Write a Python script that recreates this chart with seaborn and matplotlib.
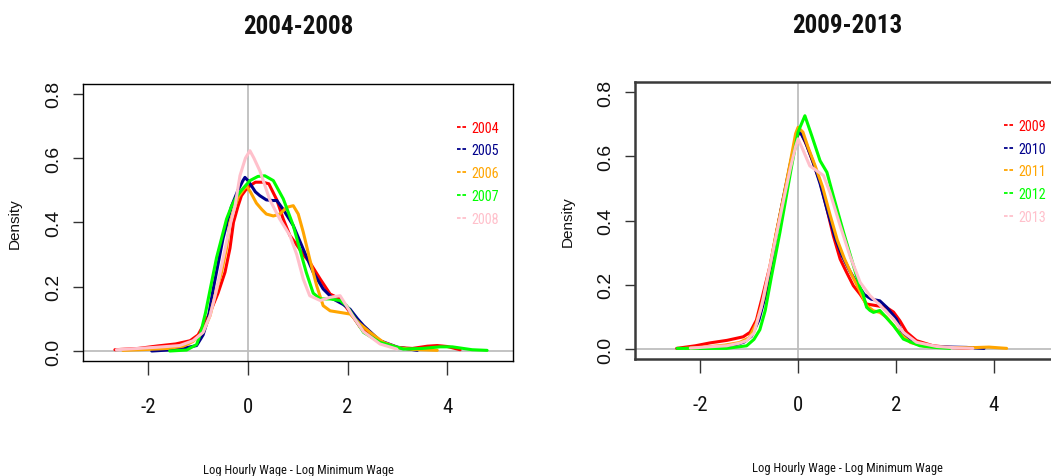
import numpy as np
import pandas as pd
import matplotlib
matplotlib.use("Agg")
import matplotlib.pyplot as plt
from matplotlib.lines import Line2D
from matplotlib import font_manager
import seaborn as sns

# ---------------- data ----------------
years_a = ["2004", "2005", "2006", "2007", "2008"]
years_b = ["2009", "2010", "2011", "2012", "2013"]
colors = ["#FF0000", "#00008B", "#FFA500", "#00FF00", "#FFC0CB"]

x2004 = [-2.67, -2.2, -1.8, -1.45, -1.16, -1.0, -0.9, -0.76, -0.6, -0.46, -0.36, -0.29, -0.2, -0.13, -0.05,
         0.05, 0.15, 0.3, 0.42, 0.58, 0.71, 0.84, 0.98, 1.11, 1.24, 1.45, 1.65, 1.85, 2.05, 2.25, 2.5, 2.78,
         3.0, 3.3, 3.6, 3.8, 4.0, 4.26]
d2004 = [0.004, 0.008, 0.016, 0.022, 0.032, 0.05, 0.079, 0.12, 0.18, 0.245, 0.32, 0.40, 0.45, 0.483, 0.50,
         0.515, 0.525, 0.525, 0.52, 0.47, 0.41, 0.36, 0.33, 0.30, 0.276, 0.224, 0.177, 0.162, 0.12, 0.075,
         0.045, 0.022, 0.011, 0.008, 0.015, 0.017, 0.014, 0.004]

x2005 = [-1.93, -1.6, -1.3, -1.03, -0.9, -0.8, -0.7, -0.6, -0.5, -0.4, -0.33, -0.2, -0.1, -0.06, 0.0, 0.07,
         0.15, 0.24, 0.37, 0.5, 0.58, 0.71, 0.91, 1.11, 1.31, 1.51, 1.71, 1.91, 2.05, 2.2, 2.32, 2.65, 3.0, 3.4]
d2005 = [0.0, 0.003, 0.008, 0.017, 0.05, 0.10, 0.19, 0.27, 0.35, 0.41, 0.45, 0.50, 0.53, 0.54, 0.53, 0.514,
         0.495, 0.483, 0.47, 0.468, 0.468, 0.44, 0.39, 0.317, 0.245, 0.193, 0.162, 0.145, 0.13, 0.10, 0.079,
         0.032, 0.012, 0.002]

x2006 = [-2.51, -2.0, -1.6, -1.3, -1.1, -0.9, -0.76, -0.63, -0.53, -0.43, -0.36, -0.26, -0.19, -0.1, -0.03,
         0.05, 0.17, 0.28, 0.37, 0.51, 0.64, 0.78, 0.91, 1.01, 1.11, 1.24, 1.38, 1.51, 1.65, 1.85, 2.05, 2.25,
         2.45, 2.72, 3.0, 3.3, 3.8]
d2006 = [0.002, 0.005, 0.008, 0.015, 0.03, 0.06, 0.11, 0.19, 0.245, 0.32, 0.40, 0.45, 0.48, 0.50, 0.514,
         0.495, 0.46, 0.44, 0.426, 0.42, 0.426, 0.447, 0.452, 0.426, 0.37, 0.286, 0.203, 0.141, 0.125, 0.12,
         0.115, 0.084, 0.058, 0.027, 0.011, 0.005, 0.002]

x2007 = [-1.57, -1.23, -1.03, -0.95, -0.85, -0.76, -0.63, -0.53, -0.43, -0.33, -0.23, -0.13, 0.04, 0.2, 0.34,
         0.51, 0.71, 0.91, 1.04, 1.17, 1.31, 1.45, 1.65, 1.85, 1.98, 2.15, 2.32, 2.65, 3.12, 3.5, 3.86, 4.1,
         4.5, 4.8]
d2007 = [0.0, 0.003, 0.02, 0.055, 0.12, 0.19, 0.29, 0.35, 0.41, 0.45, 0.48, 0.50, 0.53, 0.543, 0.545, 0.53,
         0.473, 0.39, 0.317, 0.245, 0.18, 0.162, 0.162, 0.157, 0.141, 0.10, 0.058, 0.027, 0.006, 0.008, 0.013,
         0.013, 0.004, 0.002]

x2008 = [-2.64, -2.2, -1.8, -1.37, -1.1, -0.9, -0.76, -0.63, -0.5, -0.36, -0.26, -0.16, -0.05, 0.04, 0.12,
         0.24, 0.44, 0.64, 0.84, 0.98, 1.11, 1.24, 1.45, 1.65, 1.85, 1.98, 2.1, 2.32, 2.65, 2.99]
d2008 = [0.004, 0.008, 0.012, 0.017, 0.032, 0.058, 0.11, 0.19, 0.286, 0.39, 0.45, 0.545, 0.60, 0.623, 0.60,
         0.56, 0.47, 0.41, 0.36, 0.30, 0.224, 0.172, 0.157, 0.167, 0.172, 0.14, 0.11, 0.06, 0.022, 0.006]

x2009 = [-2.48, -2.1, -1.8, -1.45, -1.12, -0.98, -0.85, -0.74, -0.57, -0.44, -0.3, -0.16, -0.05, 0.04, 0.18,
         0.31, 0.45, 0.59, 0.72, 0.86, 0.99, 1.13, 1.27, 1.4, 1.6, 1.8, 1.95, 2.08, 2.22, 2.42, 2.76, 3.1, 3.5]
d2009 = [0.002, 0.01, 0.019, 0.027, 0.038, 0.052, 0.09, 0.156, 0.26, 0.363, 0.467, 0.57, 0.65, 0.68, 0.633,
         0.58, 0.52, 0.436, 0.353, 0.28, 0.239, 0.197, 0.17, 0.14, 0.135, 0.13, 0.115, 0.088, 0.052, 0.026,
         0.01, 0.005, 0.002]

x2010 = [-2.0, -1.6, -1.3, -1.1, -0.95, -0.8, -0.66, -0.55, -0.44, -0.3, -0.16, -0.05, 0.03, 0.15, 0.3,
         0.45, 0.6, 0.75, 0.9, 1.05, 1.2, 1.35, 1.5, 1.67, 1.81, 2.01, 2.15, 2.35, 2.7, 3.1, 3.44, 3.8]
d2010 = [0.002, 0.006, 0.012, 0.022, 0.04, 0.09, 0.17, 0.26, 0.36, 0.47, 0.575, 0.65, 0.68, 0.645, 0.585,
         0.515, 0.43, 0.35, 0.29, 0.245, 0.205, 0.17, 0.155, 0.15, 0.13, 0.093, 0.042, 0.021, 0.008, 0.006,
         0.005, 0.002]

x2011 = [-2.3, -1.9, -1.5, -1.2, -1.0, -0.85, -0.7, -0.57, -0.44, -0.3, -0.16, -0.05, 0.0, 0.1, 0.2, 0.35,
         0.5, 0.65, 0.8, 0.95, 1.1, 1.25, 1.4, 1.54, 1.67, 1.8, 1.95, 2.1, 2.3, 2.6, 3.0, 3.5, 3.9, 4.26]
d2011 = [0.002, 0.006, 0.012, 0.02, 0.035, 0.08, 0.16, 0.26, 0.365, 0.47, 0.58, 0.67, 0.69, 0.675, 0.63,
         0.57, 0.505, 0.42, 0.34, 0.28, 0.23, 0.185, 0.135, 0.119, 0.114, 0.10, 0.073, 0.045, 0.02, 0.008,
         0.005, 0.004, 0.006, 0.002]

x2012 = [-2.47, -2.0, -1.46, -1.05, -0.9, -0.78, -0.67, -0.55, -0.37, -0.13, 0.0, 0.04, 0.14, 0.28, 0.45,
         0.59, 0.72, 0.93, 1.13, 1.27, 1.33, 1.4, 1.47, 1.54, 1.67, 1.95, 2.15, 2.49, 2.8, 3.1]
d2012 = [0.002, 0.002, 0.002, 0.01, 0.03, 0.06, 0.12, 0.22, 0.363, 0.57, 0.675, 0.69, 0.726, 0.664, 0.586,
         0.55, 0.477, 0.363, 0.26, 0.19, 0.17, 0.13, 0.12, 0.114, 0.12, 0.073, 0.031, 0.01, 0.005, 0.002]

x2013 = [-2.2, -1.8, -1.46, -1.2, -1.05, -0.9, -0.75, -0.6, -0.45, -0.3, -0.16, -0.05, 0.0, 0.1, 0.24, 0.38,
         0.52, 0.65, 0.86, 1.06, 1.27, 1.47, 1.67, 1.95, 2.15, 2.42, 2.83, 3.2, 3.57]
d2013 = [0.003, 0.007, 0.01, 0.018, 0.026, 0.05, 0.13, 0.24, 0.35, 0.46, 0.56, 0.63, 0.654, 0.62, 0.57,
         0.555, 0.54, 0.488, 0.384, 0.29, 0.207, 0.166, 0.137, 0.093, 0.052, 0.021, 0.008, 0.004, 0.002]

xs_a = [x2004, x2005, x2006, x2007, x2008]
ds_a = [d2004, d2005, d2006, d2007, d2008]
xs_b = [x2009, x2010, x2011, x2012, x2013]
ds_b = [d2009, d2010, d2011, d2012, d2013]

titles = ["2004-2008", "2009-2013"]
xlabel = "Log Hourly Wage - Log Minimum Wage"
ylabel = "Density"
xticks = [-2, 0, 2, 4]
yticks = [0.0, 0.2, 0.4, 0.6, 0.8]


def long_frame(years, xs, ds):
    rows = []
    for i, (yr, xv, dv) in enumerate(zip(years, xs, ds)):
        rows.append(pd.DataFrame({"year": yr, "x": xv, "density": dv, "order": i}))
    return pd.concat(rows, ignore_index=True)


# ---------------- fonts ----------------
sns.set_theme(style="white")
plt.rcParams["axes.unicode_minus"] = False
for k in ["text.color", "axes.labelcolor", "xtick.labelcolor", "ytick.labelcolor"]:
    plt.rcParams[k] = "#111111"

entries = font_manager.fontManager.ttflist
names = {f.name for f in entries}
narrow_family = None
narrow_stretch = "normal"
for cand in ["Liberation Sans Narrow", "Roboto Condensed", "Open Sans Condensed",
             "Noto Sans Condensed", "DejaVu Sans Condensed", "Arial Narrow"]:
    if cand in names:
        narrow_family = cand
        break
if narrow_family is None:
    for fam in ["DejaVu Sans", "Noto Sans", "Open Sans", "Roboto", "Inter"]:
        if any(f.name == fam and str(f.stretch) in ("condensed", "semi-condensed", "extra-condensed", "75", "87.5")
               for f in entries):
            narrow_family = fam
            narrow_stretch = "condensed"
            break
if narrow_family is None:
    narrow_family = "Liberation Sans"
narrow = [narrow_family, "Liberation Sans", "DejaVu Sans"]
plain = ["Liberation Sans", "DejaVu Sans"]
plt.rcParams["font.family"] = narrow
NS = dict(family=narrow, stretch=narrow_stretch)

fig = plt.figure(figsize=(10.51, 4.77), dpi=100)
W, H = 1051.0, 477.0
ax1 = fig.add_axes([83 / W, (H - 362.3) / H, 430 / W, (362.3 - 84.5) / H])
ax2 = fig.add_axes([635 / W, (H - 360.3) / H, 424 / W, (360.3 - 82.7) / H])

panels = [
    (ax1, years_a, xs_a, ds_a, titles[0], (-3.31, 5.32), "black", 1.0, (0.853, 0.892)),
    (ax2, years_b, xs_b, ds_b, titles[1], (-3.33, 5.33), "#3a3a3a", 1.8, (0.853, 0.892)),
]

for ax, years, xs, ds, title, xlim, spc, splw, legpos in panels:
    df = long_frame(years, xs, ds)
    ax.axvline(0, color="#bebebe", lw=1.3, zorder=1)
    ax.axhline(0, color="#bebebe", lw=1.3, zorder=1)
    sns.lineplot(data=df, x="x", y="density", hue="year", hue_order=years,
                 palette=dict(zip(years, colors)), sort=False, estimator=None,
                 linewidth=2.2, legend=False, ax=ax, zorder=3)
    ax.set_xlim(*xlim)
    ax.set_ylim(-0.032, 0.832)
    ax.set_xticks(xticks)
    ax.set_xticklabels([str(t) for t in xticks], fontsize=15, **NS)
    ax.set_yticks(yticks)
    ax.set_yticklabels([f"{t:.1f}" for t in yticks], fontsize=14, family=plain,
                       rotation=90, va="center")
    ax.tick_params(axis="x", direction="out", length=10, width=1, color="#333333", pad=16, bottom=True)
    ax.tick_params(axis="y", direction="out", length=7, width=1, color="#333333", pad=8, left=True)
    for s in ax.spines.values():
        s.set_color(spc)
        s.set_linewidth(splw)
        s.set_visible(True)
    ax.set_title(title, fontsize=18, fontweight="bold", pad=36, **NS)
    ax.set_xlabel(xlabel, fontsize=9, **NS)
    ax.xaxis.set_label_coords(0.5, -0.365)
    ax.set_ylabel(ylabel, fontsize=11, family=plain)
    ax.yaxis.set_label_coords(-0.143, 0.5)
    ax.grid(False)
    handles = [Line2D([0], [0], color=c, lw=1.3, linestyle=(0, (2, 1))) for c in colors]
    leg = ax.legend(handles, years, loc="upper left", bbox_to_anchor=legpos, frameon=False,
                    handlelength=0.75, handletextpad=0.3, labelspacing=0.62, borderpad=0,
                    prop=font_manager.FontProperties(family=narrow, stretch=narrow_stretch, size=10.2))
    for t, c in zip(leg.get_texts(), colors):
        t.set_color(c)

fig.savefig("out.png", dpi=100)
